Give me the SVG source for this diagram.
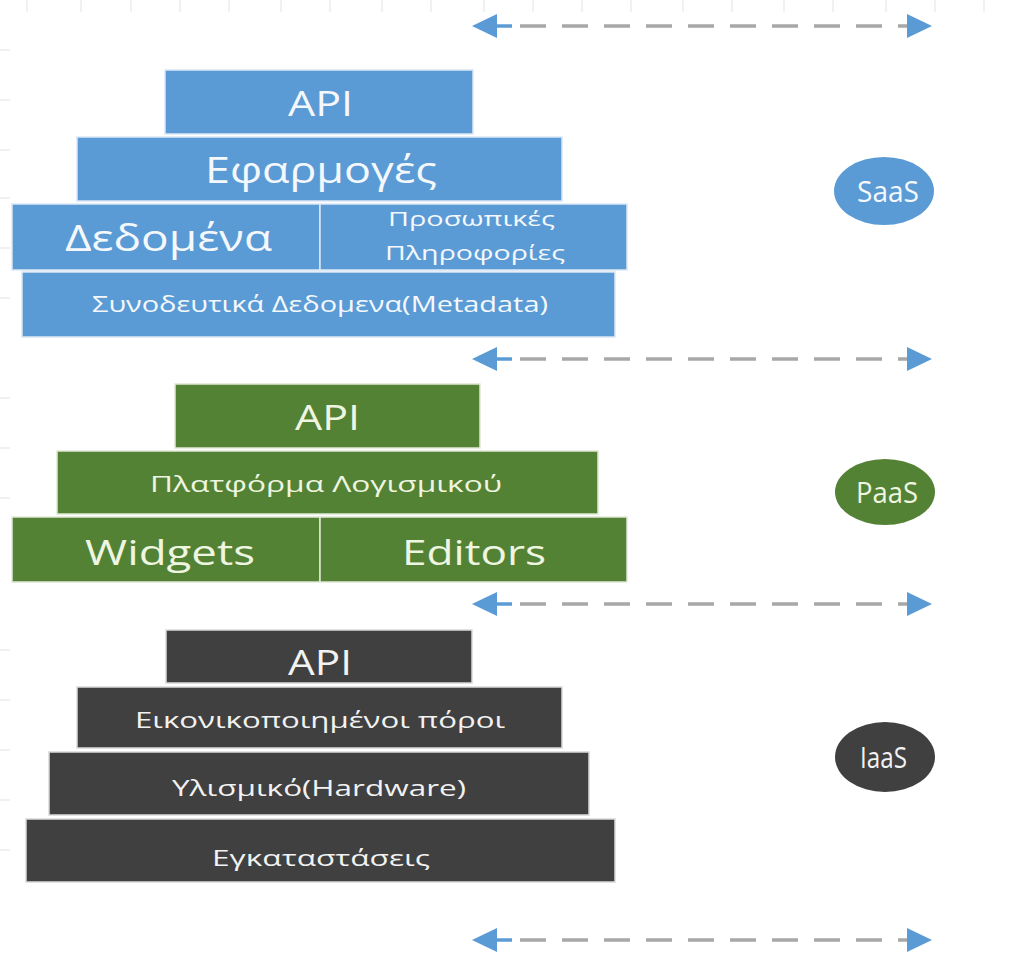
<svg xmlns="http://www.w3.org/2000/svg" width="1025" height="953" viewBox="0 0 1025 953">
  <style>
    .bg { fill: #ffffff; }
    .grid { stroke: #e3e3e3; stroke-width: 1; }
    .blue { fill: #5b9bd5; stroke: #dbe8f5; stroke-width: 1.5; }
    .green { fill: #548235; stroke: #dfe9d6; stroke-width: 1.5; }
    .gray { fill: #404040; stroke: #d9d9d9; stroke-width: 1.5; }
    .t { font-family: "Open Sans", "Noto Sans", "DejaVu Sans", sans-serif; text-anchor: start; }
    .tw { fill: #f4f8fc; }
    .tg { fill: #eef5e0; }
    .tk { fill: #f2f2f2; }
    .dash { stroke: #a8a8a8; stroke-width: 3.5; stroke-dasharray: 26 16; fill: none; }
    .stub { stroke: #5b9bd5; stroke-width: 3.5; fill: none; }
    .head { fill: #5b9bd5; }
    .ebl { fill: #5b9bd5; }
    .egr { fill: #548235; }
    .egy { fill: #404040; }
  </style>
  <rect class="bg" x="0" y="0" width="1025" height="953"/>

  <g id="grid">
    <line class="grid" x1="27" y1="0" x2="27" y2="12"/>
    <line class="grid" x1="81" y1="0" x2="81" y2="12"/>
    <line class="grid" x1="131" y1="0" x2="131" y2="12"/>
    <line class="grid" x1="180" y1="0" x2="180" y2="12"/>
    <line class="grid" x1="229" y1="0" x2="229" y2="12"/>
    <line class="grid" x1="281" y1="0" x2="281" y2="12"/>
    <line class="grid" x1="330" y1="0" x2="330" y2="12"/>
    <line class="grid" x1="382" y1="0" x2="382" y2="12"/>
    <line class="grid" x1="431" y1="0" x2="431" y2="12"/>
    <line class="grid" x1="484" y1="0" x2="484" y2="12"/>
    <line class="grid" x1="533" y1="0" x2="533" y2="12"/>
    <line class="grid" x1="582" y1="0" x2="582" y2="12"/>
    <line class="grid" x1="631" y1="0" x2="631" y2="12"/>
    <line class="grid" x1="683" y1="0" x2="683" y2="12"/>
    <line class="grid" x1="732" y1="0" x2="732" y2="12"/>
    <line class="grid" x1="784" y1="0" x2="784" y2="12"/>
    <line class="grid" x1="833" y1="0" x2="833" y2="12"/>
    <line class="grid" x1="886" y1="0" x2="886" y2="12"/>
    <line class="grid" x1="935" y1="0" x2="935" y2="12"/>
    <line class="grid" x1="984" y1="0" x2="984" y2="12"/>
    <line class="grid" x1="0" y1="50" x2="10" y2="50"/>
    <line class="grid" x1="0" y1="100" x2="10" y2="100"/>
    <line class="grid" x1="0" y1="150" x2="10" y2="150"/>
    <line class="grid" x1="0" y1="198" x2="10" y2="198"/>
    <line class="grid" x1="0" y1="248" x2="10" y2="248"/>
    <line class="grid" x1="0" y1="298" x2="10" y2="298"/>
    <line class="grid" x1="0" y1="398" x2="10" y2="398"/>
    <line class="grid" x1="0" y1="448" x2="10" y2="448"/>
    <line class="grid" x1="0" y1="498" x2="10" y2="498"/>
    <line class="grid" x1="0" y1="650" x2="10" y2="650"/>
    <line class="grid" x1="0" y1="700" x2="10" y2="700"/>
    <line class="grid" x1="0" y1="750" x2="10" y2="750"/>
    <line class="grid" x1="0" y1="800" x2="10" y2="800"/>
    <line class="grid" x1="0" y1="850" x2="10" y2="850"/>
  </g>

  <g id="connectors">
    <g id="arrow1">
      <line class="dash" x1="520" y1="26" x2="910" y2="26"/>
      <line class="stub" x1="495" y1="26" x2="512" y2="26"/>
      <polygon class="head" points="472,26 497,14 497,38"/>
      <polygon class="head" points="932,26 907,14 907,38"/>
    </g>
    <g id="arrow2">
      <line class="dash" x1="520" y1="359" x2="910" y2="359"/>
      <line class="stub" x1="495" y1="359" x2="512" y2="359"/>
      <polygon class="head" points="472,359 497,347 497,371"/>
      <polygon class="head" points="932,359 907,347 907,371"/>
    </g>
    <g id="arrow3">
      <line class="dash" x1="520" y1="604" x2="910" y2="604"/>
      <line class="stub" x1="495" y1="604" x2="512" y2="604"/>
      <polygon class="head" points="472,604 497,592 497,616"/>
      <polygon class="head" points="932,604 907,592 907,616"/>
    </g>
    <g id="arrow4">
      <line class="dash" x1="520" y1="940" x2="910" y2="940"/>
      <line class="stub" x1="495" y1="940" x2="512" y2="940"/>
      <polygon class="head" points="472,940 497,928 497,952"/>
      <polygon class="head" points="932,940 907,928 907,952"/>
    </g>
  </g>

  <!-- SaaS stack -->
  <g id="saas-api">
    <rect class="blue" x="165" y="70" width="308" height="64"/>
    <text class="t tw" x="288" y="116" font-size="34" textLength="65" lengthAdjust="spacingAndGlyphs">API</text>
  </g>
  <g id="saas-apps">
    <rect class="blue" x="77" y="137" width="485" height="64"/>
    <text class="t tw" x="205" y="183" font-size="36" textLength="232" lengthAdjust="spacingAndGlyphs">Εφαρμογές</text>
  </g>
  <g id="saas-data">
    <rect class="blue" x="12" y="204" width="308" height="66"/>
    <text class="t tw" x="65" y="251" font-size="37" textLength="207" lengthAdjust="spacingAndGlyphs">Δεδομένα</text>
  </g>
  <g id="saas-personal">
    <rect class="blue" x="320" y="204" width="307" height="66"/>
    <text class="t tw" x="388" y="226" font-size="20" textLength="167" lengthAdjust="spacingAndGlyphs">Προσωπικές</text>
    <text class="t tw" x="385" y="260" font-size="20" textLength="180" lengthAdjust="spacingAndGlyphs">Πληροφορίες</text>
  </g>
  <g id="saas-metadata">
    <rect class="blue" x="22" y="272" width="593" height="65"/>
    <text class="t tw" x="92" y="312" font-size="22" textLength="456" lengthAdjust="spacingAndGlyphs">Συνοδευτικά Δεδομενα(Metadata)</text>
  </g>

  <!-- PaaS stack -->
  <g id="paas-api">
    <rect class="green" x="175" y="384" width="305" height="64"/>
    <text class="t tg" x="295" y="430" font-size="34" textLength="65" lengthAdjust="spacingAndGlyphs">API</text>
  </g>
  <g id="paas-platform">
    <rect class="green" x="57" y="451" width="541" height="63"/>
    <text class="t tg" x="150" y="492" font-size="22" textLength="352" lengthAdjust="spacingAndGlyphs">Πλατφόρμα Λογισμικού</text>
  </g>
  <g id="paas-widgets">
    <rect class="green" x="12" y="517" width="308" height="65"/>
    <text class="t tg" x="85" y="565" font-size="35" textLength="170" lengthAdjust="spacingAndGlyphs">Widgets</text>
  </g>
  <g id="paas-editors">
    <rect class="green" x="320" y="517" width="307" height="65"/>
    <text class="t tg" x="402" y="565" font-size="35" textLength="144" lengthAdjust="spacingAndGlyphs">Editors</text>
  </g>

  <!-- IaaS stack -->
  <g id="iaas-api">
    <rect class="gray" x="166" y="630" width="306" height="53"/>
    <text class="t tk" x="288" y="675" font-size="34" textLength="64" lengthAdjust="spacingAndGlyphs">API</text>
  </g>
  <g id="iaas-virtual">
    <rect class="gray" x="77" y="687" width="485" height="61"/>
    <text class="t tk" x="135" y="728" font-size="22" textLength="370" lengthAdjust="spacingAndGlyphs">Εικονικοποιημένοι πόροι</text>
  </g>
  <g id="iaas-hardware">
    <rect class="gray" x="49" y="752" width="540" height="63"/>
    <text class="t tk" x="172" y="796" font-size="22" textLength="294" lengthAdjust="spacingAndGlyphs">Υλισμικό(Hardware)</text>
  </g>
  <g id="iaas-facilities">
    <rect class="gray" x="26" y="819" width="589" height="63"/>
    <text class="t tk" x="212" y="866" font-size="22" textLength="218" lengthAdjust="spacingAndGlyphs">Εγκαταστάσεις</text>
  </g>

  <!-- Labels -->
  <g id="saas-label">
    <ellipse class="ebl" cx="884" cy="191" rx="50" ry="34"/>
    <text class="t tw" x="857" y="202" font-size="30" textLength="62" lengthAdjust="spacingAndGlyphs">SaaS</text>
  </g>
  <g id="paas-label">
    <ellipse class="egr" cx="885" cy="492" rx="50" ry="33"/>
    <text class="t tg" x="856" y="503" font-size="30" textLength="62" lengthAdjust="spacingAndGlyphs">PaaS</text>
  </g>
  <g id="iaas-label">
    <ellipse class="egy" cx="885" cy="757" rx="50" ry="35"/>
    <text class="t tk" x="860" y="768" font-size="30" textLength="47" lengthAdjust="spacingAndGlyphs">IaaS</text>
  </g>
</svg>
